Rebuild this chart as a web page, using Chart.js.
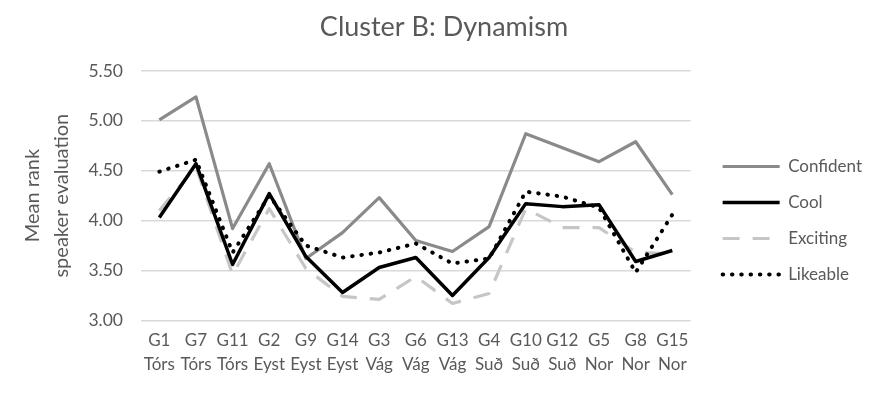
<!DOCTYPE html>
<html>
<head>
<meta charset="utf-8">
<script src="https://cdn.jsdelivr.net/npm/chart.js@4"></script>
<style>
  html, body { margin: 0; padding: 0; background: #fff; }
  #wrap { width: 895px; height: 406px; }
</style>
</head>
<body>
<div id="wrap"><canvas id="chart" width="895" height="406"></canvas></div>
<script>
const groups = ["G1", "G7", "G11", "G2", "G9", "G14", "G3", "G6", "G13", "G4", "G10", "G12", "G5", "G8", "G15"];
const regions = ["Tórs", "Tórs", "Tórs", "Eyst", "Eyst", "Eyst", "Vág", "Vág", "Vág", "Suð", "Suð", "Suð", "Nor", "Nor", "Nor"];
const confident = [5.01, 5.24, 3.92, 4.57, 3.62, 3.88, 4.23, 3.80, 3.69, 3.94, 4.87, 4.73, 4.59, 4.79, 4.26];
const cool = [4.03, 4.57, 3.56, 4.27, 3.64, 3.28, 3.53, 3.63, 3.25, 3.63, 4.17, 4.14, 4.16, 3.59, 3.70];
const exciting = [4.10, 4.54, 3.46, 4.12, 3.52, 3.24, 3.21, 3.44, 3.17, 3.27, 4.12, 3.93, 3.93, 3.68, 3.67];
const likeable = [4.49, 4.61, 3.68, 4.25, 3.75, 3.63, 3.68, 3.77, 3.57, 3.62, 4.29, 4.24, 4.13, 3.48, 4.06];

const labels = groups.map((g, i) => [g, regions[i]]);
const textColor = "#595959";
const font = "Lato";

// legend lines should look like the dataset lines, not the point style
const legendLabels = (chart) =>
    Chart.defaults.plugins.legend.labels.generateLabels(chart).map((item) => {
        const ds = chart.data.datasets[item.datasetIndex];
        item.strokeStyle = ds.borderColor;
        item.lineWidth = ds.borderWidth;
        item.lineDash = ds.borderDash || [];
        item.lineCap = ds.borderCapStyle || "butt";
        return item;
    });

const ctx = document.getElementById("chart").getContext("2d");
const chart = new Chart(ctx, {
    type: "line",
    data: {
        labels,
        datasets: [
            {
                label: "Confident",
                data: confident,
                borderColor: "#8a8a8a",
                borderWidth: 3.2,
                order: 4,
            },
            {
                label: "Cool",
                data: cool,
                borderColor: "#000000",
                borderWidth: 3.5,
                order: 2,
            },
            {
                label: "Exciting",
                data: exciting,
                borderColor: "#c6c6c6",
                borderWidth: 3.2,
                borderDash: [17, 13],
                order: 3,
            },
            {
                label: "Likeable",
                data: likeable,
                borderColor: "#000000",
                borderWidth: 4,
                borderDash: [0.5, 8.8],
                borderCapStyle: "round",
                order: 1,
            },
        ],
    },
    options: {
        responsive: false,
        animation: false,
        elements: {
            point: { radius: 0, hoverRadius: 0 },
            line: { tension: 0, borderJoinStyle: "round", fill: false },
        },
        layout: {
            padding: { left: 16, right: 23, top: 0, bottom: 30 },
        },
        scales: {
            x: {
                offset: true,
                grid: { display: false },
                border: { display: false },
                ticks: {
                    color: textColor,
                    font: { family: font, size: 17, lineHeight: 1.4 },
                    padding: 0,
                    maxRotation: 0,
                    minRotation: 0,
                    autoSkip: false,
                },
            },
            y: {
                min: 3,
                max: 5.5,
                border: { display: false },
                grid: { color: "#d9d9d9", lineWidth: 1.5, drawTicks: false },
                ticks: {
                    stepSize: 0.5,
                    color: textColor,
                    font: { family: font, size: 17.5 },
                    padding: 18,
                    callback: (v) => v.toFixed(2),
                },
                title: {
                    display: true,
                    text: ["Mean rank", "speaker evaluation"],
                    color: textColor,
                    font: { family: font, size: 20, lineHeight: 1.45 },
                    padding: { top: 2.5, bottom: 7.5 },
                },
                afterFit: (s) => { s.width = 125; },
            },
            y2: {
                position: "right",
                grid: { display: false },
                border: { display: false },
                ticks: { display: false },
                afterFit: (s) => { s.width = 13; },
            },
        },
        plugins: {
            title: {
                display: true,
                text: "Cluster B: Dynamism",
                color: textColor,
                font: { family: font, size: 27, weight: "normal" },
                padding: { top: 11.5, bottom: 27 },
            },
            legend: {
                position: "right",
                maxWidth: 220,
                title: {
                    display: true,
                    text: "",
                    font: { size: 10 },
                    padding: { top: 53, bottom: 0 },
                },
                labels: {
                    usePointStyle: true,
                    pointStyle: "line",
                    pointStyleWidth: 57,
                    color: textColor,
                    font: { family: font, size: 17 },
                    padding: 19,
                    sort: (a, b) => a.datasetIndex - b.datasetIndex,
                    generateLabels: legendLabels,
                },
            },
            tooltip: { enabled: false },
        },
    },
});
</script>
</body>
</html>
